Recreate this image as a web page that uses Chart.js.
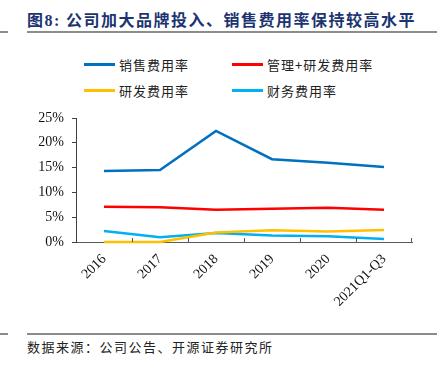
<!DOCTYPE html>
<html>
<head>
<meta charset="utf-8">
<script src="https://cdn.jsdelivr.net/npm/chart.js@4"></script>
<style>
  html, body { margin: 0; padding: 0; background: #fff; }
  body { width: 444px; height: 371px; position: relative; overflow: hidden; font-family: "Noto Sans CJK SC", sans-serif; }
  #title { position: absolute; left: 27px; top: 7px; font-size: 16px; font-weight: bold; color: #1c3470; letter-spacing: 1.5px; white-space: nowrap; }
  #title .num { font-family: "Liberation Serif", serif; }
  .rule { position: absolute; height: 2px; background: #8c8c8c; }
  #source { position: absolute; left: 27px; top: 337px; font-size: 13px; color: #222; letter-spacing: 1.5px; white-space: nowrap; }
  #legend { position: absolute; left: 0; top: 0; }
  .li { position: absolute; height: 20px; display: flex; align-items: center; font-size: 13px; letter-spacing: 1px; color: #222; white-space: nowrap; }
  .li .sw { width: 31px; height: 3px; margin-right: 4px; }
  #wrap { position: absolute; left: 0; top: 100px; width: 444px; height: 232px; }
</style>
</head>
<body>
<div id="title">图<span class="num">8:</span> 公司加大品牌投入、销售费用率保持较高水平</div>
<div class="rule" style="left:27px; width:410px; top:31px;"></div>
<div class="rule" style="left:0; width:8px; top:31px;"></div>
<div id="legend"></div>
<div id="wrap"><canvas id="c"></canvas></div>
<div class="rule" style="left:27px; width:410px; top:333px;"></div>
<div class="rule" style="left:0; width:8px; top:333px;"></div>
<div id="source">数据来源：公司公告、开源证券研究所</div>
<script>
const categories = ['2016', '2017', '2018', '2019', '2020', '2021Q1-Q3'];
const seriesNames = ['销售费用率', '管理+研发费用率', '研发费用率', '财务费用率'];
const salesRate = [14.3, 14.5, 22.4, 16.7, 16.0, 15.1];
const mgmtRdRate = [7.1, 7.0, 6.5, 6.7, 6.9, 6.5];
const rdRate = [0.0, 0.0, 1.9, 2.35, 2.1, 2.4];
const finRate = [2.2, 0.95, 1.8, 1.3, 1.15, 0.6];
const yTickLabels = ['0%', '5%', '10%', '15%', '20%', '25%'];

const colors = ['#0070C0', '#FF0000', '#FFC000', '#00B0F0'];
const seriesData = [salesRate, mgmtRdRate, rdRate, finRate];

// HTML legend (two columns)
const legendPos = [[84, 54], [232, 54], [84, 80], [232, 80]];
const legendEl = document.getElementById('legend');
seriesNames.forEach((n, i) => {
  const d = document.createElement('div');
  d.className = 'li';
  d.style.left = legendPos[i][0] + 'px';
  d.style.top = legendPos[i][1] + 'px';
  const sw = document.createElement('span');
  sw.className = 'sw';
  sw.style.background = colors[i];
  const t = document.createElement('span');
  t.textContent = n;
  d.appendChild(sw); d.appendChild(t);
  legendEl.appendChild(d);
});

const innerTicks = {
  id: 'innerTicks',
  afterDraw(chart) {
    const xs = chart.scales.x;
    const ctx = chart.ctx;
    const area = chart.chartArea;
    ctx.save();
    ctx.strokeStyle = '#595959';
    ctx.lineWidth = 1;
    const n = categories.length;
    for (let i = 1; i <= n; i++) {
      const x = Math.round((xs.getPixelForValue(i - 1) + xs.getPixelForValue(i)) / 2) + 0.5;
      const xx = i === n ? Math.round(area.right) - 0.5 : x;
      ctx.beginPath();
      ctx.moveTo(xx, area.bottom);
      ctx.lineTo(xx, area.bottom - 4);
      ctx.stroke();
    }
    ctx.restore();
  }
};

new Chart(document.getElementById('c'), {
  type: 'line',
  data: {
    labels: categories,
    datasets: seriesNames.map((n, i) => ({
      label: n,
      data: seriesData[i],
      borderColor: colors[i],
      backgroundColor: colors[i],
      borderWidth: 2.5,
      pointRadius: 0,
      tension: 0,
      clip: false
    }))
  },
  options: {
    responsive: true,
    maintainAspectRatio: false,
    animation: false,
    events: [],
    layout: { padding: { top: 18, right: 32, left: 0, bottom: 0 } },
    plugins: { legend: { display: false }, tooltip: { enabled: false } },
    scales: {
      x: {
        offset: true,
        grid: { display: true, drawOnChartArea: false, drawTicks: false, color: '#595959' },
        border: { display: true, color: '#595959', width: 1 },
        ticks: {
          minRotation: 45, maxRotation: 45,
          padding: 9,
          color: '#111',
          font: { family: 'Liberation Serif', size: 14 },
          autoSkip: false
        },
        afterFit(scale) { scale.height = 90; }
      },
      y: {
        min: 0, max: 25,
        ticks: {
          stepSize: 5,
          padding: 8,
          color: '#111',
          font: { family: 'Liberation Serif', size: 14 },
          callback: (v) => yTickLabels[Math.round(v / 5)]
        },
        grid: { drawOnChartArea: false, drawTicks: true, tickLength: 4, color: '#404040' },
        border: { display: true, color: '#404040', width: 1 },
        afterFit(scale) { scale.width = 76; }
      }
    }
  },
  plugins: [innerTicks]
});
</script>
</body>
</html>
